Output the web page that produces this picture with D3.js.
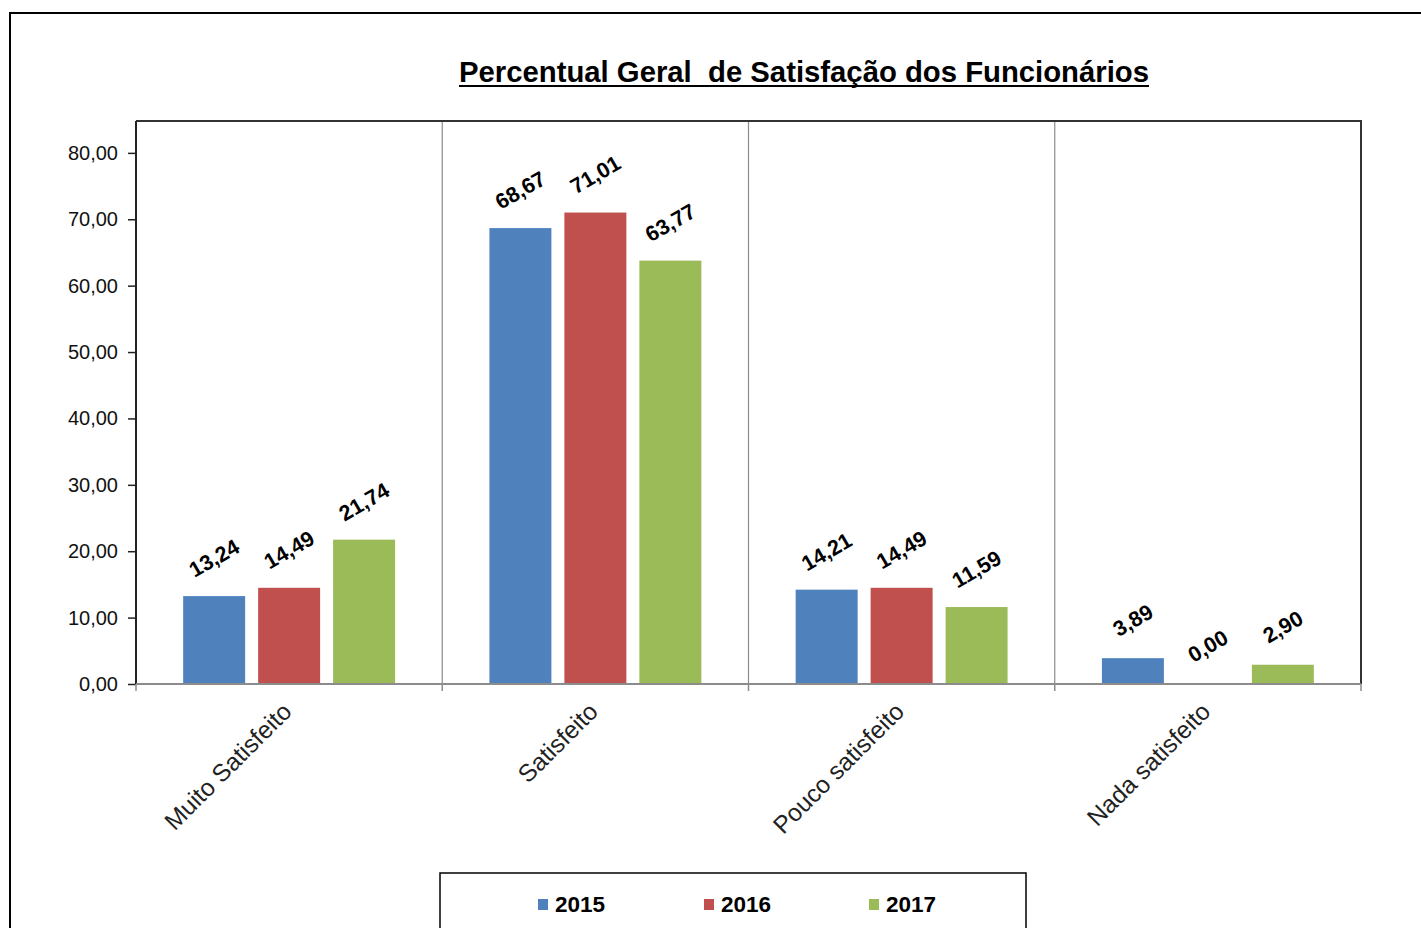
<!DOCTYPE html>
<html>
<head>
<meta charset="utf-8">
<script src="https://cdn.jsdelivr.net/npm/d3@7"></script>
<style>
  html, body { margin: 0; padding: 0; background: #fff; }
  svg { display: block; font-family: Arial, "Liberation Sans", sans-serif; }
</style>
</head>
<body>
<svg id="chart" width="1421" height="928"></svg>
<script>
// Employee satisfaction survey, percentage per answer and year
const categories = ["Muito Satisfeito", "Satisfeito", "Pouco satisfeito", "Nada satisfeito"];
const years = ["2015", "2016", "2017"];
const values2015 = [13.24, 68.67, 14.21, 3.89];
const values2016 = [14.49, 71.01, 14.49, 0.00];
const values2017 = [21.74, 63.77, 11.59, 2.90];
const yTicks = [0, 10, 20, 30, 40, 50, 60, 70, 80];
const colors = ["#4F81BD", "#C0504D", "#9BBB59"];
const title = "Percentual Geral  de Satisfação dos Funcionários";

const seriesValues = [values2015, values2016, values2017];
const rows = categories.map((c, i) => ({
  category: c,
  values: years.map((y, s) => ({ year: y, value: seriesValues[s][i], s }))
}));

const svg = d3.select("#chart");
const plot = { left: 136, right: 1361, top: 121, bottom: 684 };

const fmt = v => v.toFixed(2).replace(".", ",");

const x = d3.scaleBand().domain(categories).range([plot.left, plot.right]).padding(0);
const groupWidth = x.bandwidth() * 0.692;
const xs = d3.scaleBand().domain(years)
  .range([(x.bandwidth() - groupWidth) / 2, (x.bandwidth() + groupWidth) / 2])
  .paddingInner(0.1733).paddingOuter(0);
const y = d3.scaleLinear().domain([0, 84.8]).range([plot.bottom, plot.top]);

// outer frame of the chart
svg.append("path")
  .attr("d", `M10,928 V13 H1421`)
  .attr("fill", "none").attr("stroke", "#000").attr("stroke-width", 2);

// title
svg.append("text")
  .attr("x", 804).attr("y", 82)
  .attr("text-anchor", "middle")
  .attr("font-size", 29).attr("font-weight", "bold")
  .attr("textLength", 690).attr("lengthAdjust", "spacingAndGlyphs")
  .style("white-space", "pre")
  .attr("fill", "#000")
  .text(title);
svg.append("line")
  .attr("x1", 459).attr("x2", 1149).attr("y1", 86).attr("y2", 86)
  .attr("stroke", "#000").attr("stroke-width", 2);

// category separators
svg.append("g").selectAll("line")
  .data(categories.slice(1))
  .join("line")
  .attr("x1", d => x(d)).attr("x2", d => x(d))
  .attr("y1", plot.top).attr("y2", plot.bottom)
  .attr("stroke", "#8c8c8c").attr("stroke-width", 1.2);

// plot border (top and right)
svg.append("path")
  .attr("d", `M${plot.left},${plot.top} H${plot.right} V${plot.bottom}`)
  .attr("fill", "none").attr("stroke", "#333").attr("stroke-width", 2);

// bars
const groups = svg.append("g").selectAll("g")
  .data(rows).join("g")
  .attr("transform", d => `translate(${x(d.category)},0)`);

groups.selectAll("rect")
  .data(d => d.values)
  .join("rect")
  .attr("x", d => xs(d.year))
  .attr("width", xs.bandwidth())
  .attr("y", d => y(d.value))
  .attr("height", d => y(0) - y(d.value))
  .attr("fill", d => colors[d.s]);

// value labels
groups.selectAll("text")
  .data(d => d.values)
  .join("text")
  .attr("transform", d => `translate(${xs(d.year) + xs.bandwidth() / 2},${y(d.value) - 38}) rotate(-30)`)
  .attr("text-anchor", "middle")
  .attr("dy", "0.35em")
  .attr("font-size", 21.5).attr("font-weight", "bold")
  .attr("fill", "#000")
  .text(d => fmt(d.value));

// y axis
const yAxis = svg.append("g")
  .attr("transform", `translate(${plot.left},0)`)
  .call(d3.axisLeft(y).tickValues(yTicks).tickFormat(fmt).tickSize(8).tickPadding(10).tickSizeOuter(0));
yAxis.select(".domain").attr("stroke", "#222").attr("stroke-width", 2)
  .attr("d", `M0,${plot.top}V${plot.bottom}`);
yAxis.selectAll(".tick line").attr("stroke", "#222").attr("stroke-width", 1.5);
yAxis.selectAll(".tick text")
  .attr("font-size", 20).attr("fill", "#111")
  .attr("font-family", "Arial, 'Liberation Sans', sans-serif");

// x axis baseline and boundary ticks
const bounds = categories.map(c => x(c)).concat([plot.right]);
svg.append("line")
  .attr("x1", plot.left).attr("x2", plot.right)
  .attr("y1", y(0)).attr("y2", y(0))
  .attr("stroke", "#8c8c8c").attr("stroke-width", 2);
svg.append("g").selectAll("line")
  .data(bounds).join("line")
  .attr("x1", d => d).attr("x2", d => d)
  .attr("y1", y(0)).attr("y2", y(0) + 7)
  .attr("stroke", "#8c8c8c").attr("stroke-width", 1.5);

// category labels
svg.append("g").selectAll("text")
  .data(categories).join("text")
  .attr("transform", d => `translate(${x(d) + x.bandwidth() / 2 + 4},713) rotate(-45)`)
  .attr("text-anchor", "end")
  .attr("font-size", 24.5)
  .attr("fill", "#222")
  .text(d => d);

// legend
const legend = svg.append("g");
legend.append("rect")
  .attr("x", 440).attr("y", 873).attr("width", 586).attr("height", 80)
  .attr("fill", "#fff").attr("stroke", "#000").attr("stroke-width", 1.5);
const legendX = [538, 704, 869];
const items = legend.selectAll("g.item")
  .data(years).join("g").attr("class", "item")
  .attr("transform", (d, i) => `translate(${legendX[i]},899)`);
items.append("rect")
  .attr("width", 10).attr("height", 11)
  .attr("fill", (d, i) => colors[i]);
items.append("text")
  .attr("x", 17).attr("y", 12.5)
  .attr("font-size", 22.5).attr("font-weight", "bold")
  .attr("fill", "#000")
  .text(d => d);
</script>
</body>
</html>
